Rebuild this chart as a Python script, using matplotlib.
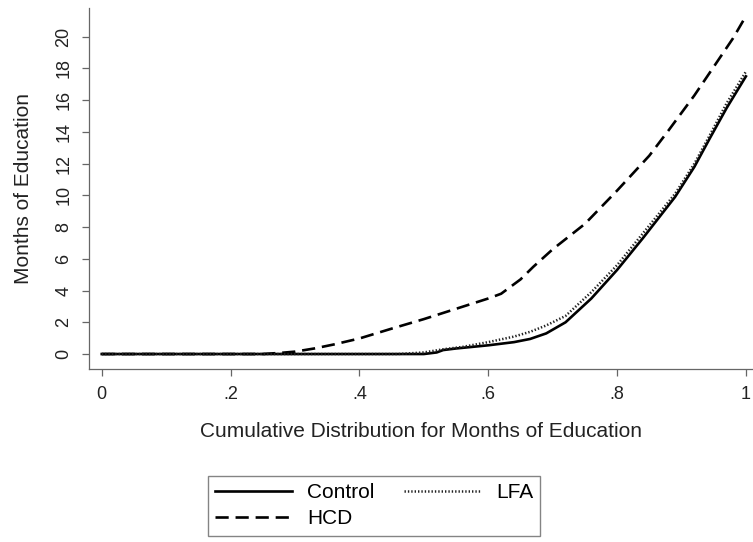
import numpy as np
import matplotlib
matplotlib.use("Agg")
import matplotlib.pyplot as plt

plt.rcParams["font.family"] = ["Liberation Sans", "DejaVu Sans"]

# -------- DATA --------
control_x = [0, 0.50, 0.52, 0.53, 0.55, 0.60, 0.64, 0.665, 0.69, 0.72, 0.76, 0.80,
             0.84, 0.89, 0.92, 0.944, 0.97, 1.0]
control_y = [0, 0, 0.1, 0.25, 0.35, 0.55, 0.75, 0.95, 1.3, 2.0, 3.5, 5.3,
             7.3, 9.9, 11.8, 13.6, 15.5, 17.5]

lfa_x = [0, 0.46, 0.50, 0.53, 0.56, 0.60, 0.64, 0.665, 0.69, 0.72, 0.76, 0.80,
         0.84, 0.89, 0.92, 0.944, 0.97, 1.0]
lfa_y = [0, 0, 0.1, 0.3, 0.45, 0.75, 1.1, 1.4, 1.8, 2.4, 3.9, 5.6,
         7.6, 10.1, 12.0, 13.8, 15.8, 17.8]

hcd_x = [0, 0.25, 0.28, 0.30, 0.33, 0.36, 0.40, 0.45, 0.50, 0.55, 0.60, 0.62,
         0.65, 0.67, 0.70, 0.75, 0.80, 0.85, 0.88, 0.92, 0.955, 0.98, 1.0]
hcd_y = [0, 0, 0.08, 0.15, 0.35, 0.6, 0.98, 1.6, 2.2, 2.85, 3.5, 3.8,
         4.7, 5.5, 6.6, 8.2, 10.3, 12.5, 14.1, 16.3, 18.4, 19.9, 21.3]

x_ticks = [0, 0.2, 0.4, 0.6, 0.8, 1.0]
x_tick_labels = ["0", ".2", ".4", ".6", ".8", "1"]
y_ticks = list(range(0, 21, 2))
# -----------------------------------------------

fig = plt.figure(figsize=(7.53, 5.42), dpi=100)
ax = fig.add_axes([0.118, 0.319, 0.882, 0.666])

ax.plot(control_x, control_y, color="black", linewidth=1.9, label="Control")
ax.plot(hcd_x, hcd_y, color="black", linewidth=1.9, linestyle=(0, (5, 2.6)), label="HCD")
ax.plot(lfa_x, lfa_y, color="#222222", linewidth=1.8, linestyle=(0, (0.55, 0.8)), label="LFA")

ax.set_xlim(-0.02, 1.011)
ax.set_ylim(-0.95, 21.8)
ax.set_xticks(x_ticks)
ax.set_xticklabels(x_tick_labels)
ax.set_yticks(y_ticks)
ax.set_yticklabels([str(v) for v in y_ticks], rotation=90, va="center")
ax.tick_params(axis="both", direction="out", length=5, width=0.9, color="#666666",
               labelsize=13, pad=7, labelcolor="#222222")

for side in ["top", "right"]:
    ax.spines[side].set_visible(False)
for side in ["left", "bottom"]:
    ax.spines[side].set_color("#666666")
    ax.spines[side].set_linewidth(0.9)

ax.set_xlabel("Cumulative Distribution for Months of Education", fontsize=15,
              color="#222222", labelpad=14)
ax.set_ylabel("Months of Education", fontsize=15, color="#222222", va="center")
ax.yaxis.set_label_coords(-0.099, 0.5)

handles, labels = ax.get_legend_handles_labels()
leg = fig.legend(handles, labels, ncol=2, loc="upper left",
                 bbox_to_anchor=(0.276, 0.122), fontsize=15, frameon=True,
                 fancybox=False, edgecolor="#666666", handlelength=3.7,
                 columnspacing=1.45, handletextpad=0.7, borderpad=0.35,
                 labelspacing=0.35, borderaxespad=0)
leg.get_frame().set_linewidth(1.0)

fig.savefig("out.png", dpi=100)
